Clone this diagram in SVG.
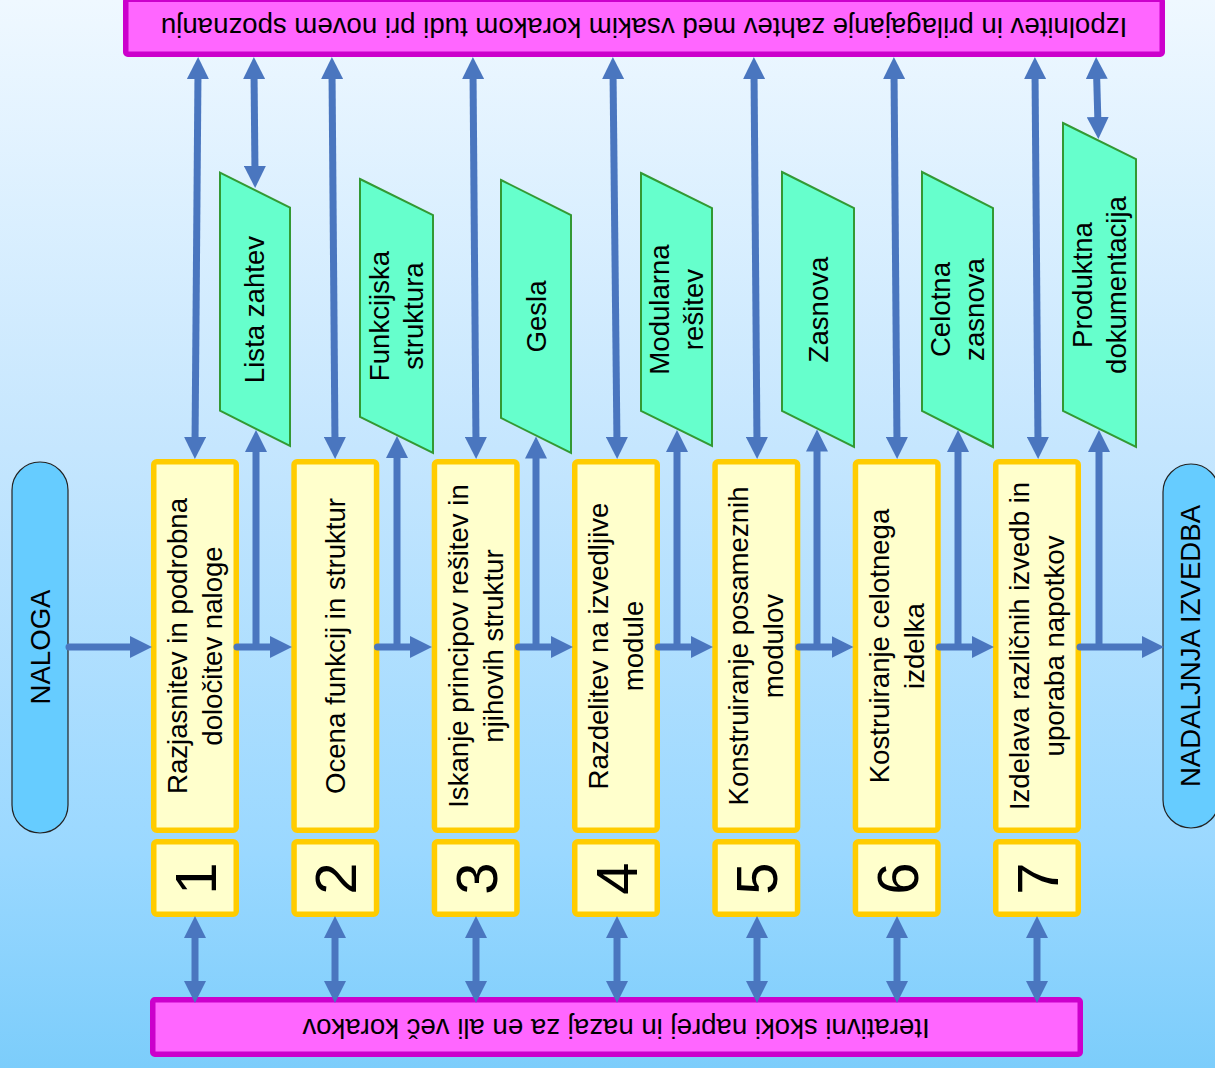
<svg xmlns="http://www.w3.org/2000/svg" width="1215" height="1068" viewBox="0 0 1215 1068">
  <defs>
    <linearGradient id="bg" x1="0" y1="0" x2="0" y2="1">
      <stop offset="0" stop-color="#eff8ff"/>
      <stop offset="0.42" stop-color="#c5e6fe"/>
      <stop offset="0.8" stop-color="#9ad8ff"/>
      <stop offset="1" stop-color="#7ccdfb"/>
    </linearGradient>
    <marker id="ah" viewBox="0 0 22 22" refX="8" refY="11" markerWidth="22" markerHeight="22" markerUnits="userSpaceOnUse" orient="auto-start-reverse">
      <path d="M0,0 L22,11 L0,22 z" fill="#4a76bf"/>
    </marker>
    <style>
      .t { font-family: "Liberation Sans", Arial, sans-serif; font-size: 27.6px; fill: #000; }
      .num { font-family: "Liberation Sans", Arial, sans-serif; font-size: 58px; fill: #000; }
      .band { fill: #ff66ff; stroke: #cc00cc; stroke-width: 5.5; }
      .step { fill: #ffffcc; stroke: #ffcc00; stroke-width: 5.5; }
      .doc { fill: #66ffcc; stroke: #339933; stroke-width: 2; }
      .term { fill: #66ccff; stroke: #222; stroke-width: 1.2; }
      .c { fill: none; stroke: #4a76bf; stroke-width: 7; }
      .one { marker-end: url(#ah); }
      .two { marker-start: url(#ah); marker-end: url(#ah); }
      .flow { stroke-linecap: round; marker-end: url(#ah); }
    </style>
  </defs>

  <rect width="1215" height="1068" fill="url(#bg)"/>

  <!-- feedback bands -->
  <g id="band-top">
    <rect class="band" x="125.75" y="-0.8" width="1036.5" height="55.05" rx="2"/>
    <text class="t" text-anchor="middle" transform="translate(644,18) rotate(180)">Izpolnitev in prilagajanje zahtev med vsakim korakom tudi pri novem spoznanju</text>
  </g>
  <g id="band-bottom">
    <rect class="band" x="152.75" y="999.75" width="927.5" height="54.5" rx="2"/>
    <text class="t" text-anchor="middle" transform="translate(616,1018.5) rotate(180)">Iterativni skoki naprej in nazaj za en ali več korakov</text>
  </g>

  <!-- start / end terminals -->
  <g id="naloga">
    <rect class="term" x="12" y="462" width="56" height="371" rx="28"/>
    <text class="t" text-anchor="middle" transform="translate(40,647) rotate(-90)" y="9.5">NALOGA</text>
  </g>
  <g id="nadaljnja">
    <rect class="term" x="1163" y="464" width="56" height="364" rx="28"/>
    <text class="t" text-anchor="middle" transform="translate(1190,646) rotate(-90)" y="10">NADALJNJA IZVEDBA</text>
  </g>

  <!-- process steps -->
  <g id="step1">
    <rect class="step" x="153.75" y="461.75" width="82.5" height="368.5" rx="3"/>
    <text class="t" text-anchor="middle" transform="translate(195,646) rotate(-90)"><tspan x="0" y="-8">Razjasnitev in podrobna</tspan><tspan x="0" y="27">določitev naloge</tspan></text>
  </g>
  <g id="step2">
    <rect class="step" x="294.05" y="461.75" width="82.5" height="368.5" rx="3"/>
    <text class="t" text-anchor="middle" transform="translate(335.3,646) rotate(-90)" y="9.5">Ocena funkcij in struktur</text>
  </g>
  <g id="step3">
    <rect class="step" x="434.45" y="461.75" width="82.5" height="368.5" rx="3"/>
    <text class="t" text-anchor="middle" transform="translate(475.7,646) rotate(-90)"><tspan x="0" y="-8">Iskanje principov rešitev in</tspan><tspan x="0" y="27">njihovih struktur</tspan></text>
  </g>
  <g id="step4">
    <rect class="step" x="574.75" y="461.75" width="82.5" height="368.5" rx="3"/>
    <text class="t" text-anchor="middle" transform="translate(616,646) rotate(-90)"><tspan x="0" y="-8">Razdelitev na izvedljive</tspan><tspan x="0" y="27">module</tspan></text>
  </g>
  <g id="step5">
    <rect class="step" x="715.05" y="461.75" width="82.5" height="368.5" rx="3"/>
    <text class="t" text-anchor="middle" transform="translate(756.3,646) rotate(-90)"><tspan x="0" y="-8">Konstruiranje posameznih</tspan><tspan x="0" y="27">modulov</tspan></text>
  </g>
  <g id="step6">
    <rect class="step" x="855.45" y="461.75" width="82.5" height="368.5" rx="3"/>
    <text class="t" text-anchor="middle" transform="translate(896.7,646) rotate(-90)"><tspan x="0" y="-8">Kostruiranje celotnega</tspan><tspan x="0" y="27">izdelka</tspan></text>
  </g>
  <g id="step7">
    <rect class="step" x="995.75" y="461.75" width="82.5" height="368.5" rx="3"/>
    <text class="t" text-anchor="middle" transform="translate(1037,646) rotate(-90)"><tspan x="0" y="-8">Izdelava različnih izvedb in</tspan><tspan x="0" y="27">uporaba napotkov</tspan></text>
  </g>

  <!-- step numbers -->
  <g id="num1"><rect class="step" x="153.75" y="841.75" width="82.5" height="72.5" rx="3"/><text class="num" text-anchor="middle" transform="translate(195,878.5) rotate(-90)" y="21">1</text></g>
  <g id="num2"><rect class="step" x="294.05" y="841.75" width="82.5" height="72.5" rx="3"/><text class="num" text-anchor="middle" transform="translate(335.3,878.5) rotate(-90)" y="21">2</text></g>
  <g id="num3"><rect class="step" x="434.45" y="841.75" width="82.5" height="72.5" rx="3"/><text class="num" text-anchor="middle" transform="translate(475.7,878.5) rotate(-90)" y="21">3</text></g>
  <g id="num4"><rect class="step" x="574.75" y="841.75" width="82.5" height="72.5" rx="3"/><text class="num" text-anchor="middle" transform="translate(616,878.5) rotate(-90)" y="21">4</text></g>
  <g id="num5"><rect class="step" x="715.05" y="841.75" width="82.5" height="72.5" rx="3"/><text class="num" text-anchor="middle" transform="translate(756.3,878.5) rotate(-90)" y="21">5</text></g>
  <g id="num6"><rect class="step" x="855.45" y="841.75" width="82.5" height="72.5" rx="3"/><text class="num" text-anchor="middle" transform="translate(896.7,878.5) rotate(-90)" y="21">6</text></g>
  <g id="num7"><rect class="step" x="995.75" y="841.75" width="82.5" height="72.5" rx="3"/><text class="num" text-anchor="middle" transform="translate(1037,878.5) rotate(-90)" y="21">7</text></g>

  <!-- result documents -->
  <g id="doc1">
    <polygon class="doc" points="220,172.7 290,207.7 290,446 220,410.7"/>
    <text class="t" text-anchor="middle" transform="translate(255,309.5) rotate(-90)" y="9">Lista zahtev</text>
  </g>
  <g id="doc2">
    <polygon class="doc" points="360,179 433,215 433,453 360,417"/>
    <text class="t" text-anchor="middle" transform="translate(396.5,316) rotate(-90)"><tspan x="0" y="-8">Funkcijska</tspan><tspan x="0" y="26.5">struktura</tspan></text>
  </g>
  <g id="doc3">
    <polygon class="doc" points="501,180 571,215 571,453 501,418"/>
    <text class="t" text-anchor="middle" transform="translate(536,316.5) rotate(-90)" y="9.5">Gesla</text>
  </g>
  <g id="doc4">
    <polygon class="doc" points="641,173 712,208 712,446 641,411"/>
    <text class="t" text-anchor="middle" transform="translate(676.5,309.5) rotate(-90)"><tspan x="0" y="-8">Modularna</tspan><tspan x="0" y="26.5">rešitev</tspan></text>
  </g>
  <g id="doc5">
    <polygon class="doc" points="782,172 854,208 854,447 782,411"/>
    <text class="t" text-anchor="middle" transform="translate(818,309.5) rotate(-90)" y="9.5">Zasnova</text>
  </g>
  <g id="doc6">
    <polygon class="doc" points="922,172 993,208 993,447 922,411"/>
    <text class="t" text-anchor="middle" transform="translate(957.5,309.5) rotate(-90)"><tspan x="0" y="-8">Celotna</tspan><tspan x="0" y="26.5">zasnova</tspan></text>
  </g>
  <g id="doc7">
    <polygon class="doc" points="1063,123 1136,159 1136,447 1063,411"/>
    <text class="t" text-anchor="middle" transform="translate(1099.5,285) rotate(-90)"><tspan x="0" y="-8">Produktna</tspan><tspan x="0" y="26.5">dokumentacija</tspan></text>
  </g>

  <!-- connectors -->
  <g id="connectors">
    <!-- main flow -->
    <path class="c flow" d="M69,647 H138"/>
    <path class="c flow" d="M237,647 H278"/>
    <path class="c flow" d="M377.5,647 H418"/>
    <path class="c flow" d="M518.5,647 H559"/>
    <path class="c flow" d="M658.5,647 H699"/>
    <path class="c flow" d="M799,647 H839.5"/>
    <path class="c flow" d="M939.5,647 H980"/>
    <path class="c flow" d="M1080,647 H1150"/>

    <!-- step outputs up to documents -->
    <path class="c one" d="M256,650 V444"/>
    <path class="c one" d="M397,650 V450"/>
    <path class="c one" d="M536,650 V450.5"/>
    <path class="c one" d="M677,650 V444"/>
    <path class="c one" d="M817,650 V443.5"/>
    <path class="c one" d="M958,650 V444"/>
    <path class="c one" d="M1099,650 V444"/>

    <!-- steps to requirement band -->
    <path class="c two" d="M198,71 L195,445"/>
    <path class="c two" d="M332,71 L335,445"/>
    <path class="c two" d="M473,71 L476,445"/>
    <path class="c two" d="M613,71 L617,445"/>
    <path class="c two" d="M754,71 L757,445"/>
    <path class="c two" d="M894,71 L897,445"/>
    <path class="c two" d="M1035,71 L1038,445"/>

    <!-- documents to requirement band -->
    <path class="c two" d="M254,71 L255,174"/>
    <path class="c two" d="M1096.5,71 L1098,125"/>

    <!-- steps to iteration band -->
    <path class="c two" d="M195,930 V989"/>
    <path class="c two" d="M335,930 V989"/>
    <path class="c two" d="M476,930 V989"/>
    <path class="c two" d="M617,930 V989"/>
    <path class="c two" d="M757,930 V989"/>
    <path class="c two" d="M897,930 V989"/>
    <path class="c two" d="M1037,930 V989"/>
  </g>
</svg>
